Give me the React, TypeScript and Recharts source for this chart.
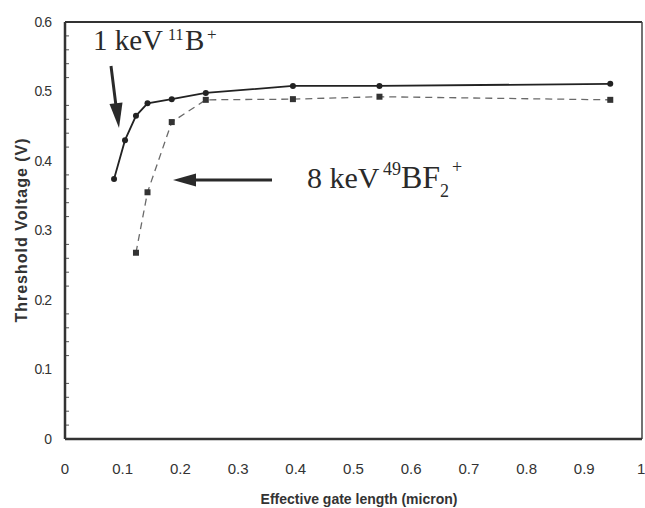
import React from 'react';
import { ComposedChart, Line, XAxis, YAxis, ReferenceLine, Customized } from 'recharts';

const boronLengths = [0.085, 0.104, 0.123, 0.143, 0.185, 0.244, 0.395, 0.545, 0.945];
const boronVt = [0.374, 0.43, 0.465, 0.483, 0.489, 0.498, 0.508, 0.508, 0.511];

const bf2Lengths = [0.123, 0.143, 0.185, 0.244, 0.395, 0.545, 0.945];
const bf2Vt = [0.268, 0.355, 0.456, 0.488, 0.489, 0.4925, 0.488];

const xTicks = [0, 0.1, 0.2, 0.3, 0.4, 0.5, 0.6, 0.7, 0.8, 0.9, 1];
const yTicks = [0, 0.1, 0.2, 0.3, 0.4, 0.5, 0.6];
const yMinorTicks = [
  0.02, 0.04, 0.06, 0.08, 0.12, 0.14, 0.16, 0.18, 0.22, 0.24, 0.26, 0.28,
  0.32, 0.34, 0.36, 0.38, 0.42, 0.44, 0.46, 0.48, 0.52, 0.54, 0.56, 0.58,
];

const boronData = boronLengths.map((x, i) => ({ x, y: boronVt[i] }));
const bf2Data = bf2Lengths.map((x, i) => ({ x, y: bf2Vt[i] }));

const SquareDot = (props: any) => {
  const { cx, cy } = props;
  if (cx == null || cy == null) return null;
  return <rect x={cx - 3} y={cy - 3} width={6} height={6} fill="#333" />;
};

const RoundDot = (props: any) => {
  const { cx, cy } = props;
  if (cx == null || cy == null) return null;
  return <circle cx={cx} cy={cy} r={3} fill="#222" />;
};

const serif = "'Liberation Serif', 'Times New Roman', serif";

const Annotations = () => (
  <g>
    <text x={93} y={50} fontFamily={serif} fontSize={29} fill="#2a2a2a">
      <tspan x={93} y={50}>1 keV</tspan>
      <tspan x={168} y={40} fontSize={16}>11</tspan>
      <tspan x={185} y={50} fontSize={29}>B</tspan>
      <tspan x={207} y={40} fontSize={17}>+</tspan>
    </text>
    <text x={307} y={188} fontFamily={serif} fontSize={30} fill="#2a2a2a">
      <tspan x={307} y={188}>8 keV</tspan>
      <tspan x={383} y={175} fontSize={18}>49</tspan>
      <tspan x={401} y={188} fontSize={32}>BF</tspan>
      <tspan x={440} y={197} fontSize={18}>2</tspan>
      <tspan x={452} y={173} fontSize={18}>+</tspan>
    </text>
    <line x1={111} y1={66} x2={116} y2={106} stroke="#2a2a2a" strokeWidth={3} />
    <polygon points="119,128 109.5,104 122.5,102.4" fill="#2a2a2a" />
    <line x1={272} y1={180} x2={192} y2={180} stroke="#2a2a2a" strokeWidth={3} />
    <polygon points="173,180 196,173.5 196,186.5" fill="#2a2a2a" />
    <text
      x={21}
      y={230}
      transform="rotate(-90 21 230)"
      textAnchor="middle"
      dominantBaseline="central"
      fontFamily="Arial, 'Liberation Sans', sans-serif"
      fontWeight="bold"
      fontSize={16}
      letterSpacing={1}
      fill="#333"
    >
      Threshold Voltage (V)
    </text>
    <text
      x={359}
      y={504}
      textAnchor="middle"
      fontFamily="Arial, 'Liberation Sans', sans-serif"
      fontWeight="bold"
      fontSize={14}
      fill="#333"
    >
      Effective gate length (micron)
    </text>
  </g>
);

export default function App() {
  return (
    <div style={{ position: 'absolute', left: 0, top: 0, background: '#fff' }}>
      <ComposedChart
        width={645}
        height={508}
        margin={{ top: 22, right: 3, bottom: 39, left: 0 }}
      >
        <XAxis
          dataKey="x"
          type="number"
          domain={[0, 1]}
          ticks={xTicks}
          tickLine={false}
          tickSize={0}
          tickMargin={24}
          height={30}
          axisLine={{ stroke: '#333', strokeWidth: 2.5 }}
          tick={{ fontSize: 15, fill: '#333', fontFamily: 'Arial, sans-serif' }}
          allowDataOverflow
        />
        <YAxis
          dataKey="y"
          type="number"
          domain={[0, 0.6]}
          ticks={yTicks}
          tickLine={false}
          tickSize={0}
          tickMargin={14}
          width={65}
          axisLine={{ stroke: '#333', strokeWidth: 2.5 }}
          tick={{ fontSize: 14, fill: '#333', fontFamily: 'Arial, sans-serif', letterSpacing: -1 }}
          allowDataOverflow
        />
        <ReferenceLine y={0.6} stroke="#333" strokeWidth={2} />
        <ReferenceLine x={1} stroke="#444" strokeWidth={1.5} />
        {yMinorTicks.map((v) => (
          <ReferenceLine
            key={v}
            segment={[{ x: 0, y: v }, { x: 0.007, y: v }]}
            stroke="#555"
            strokeWidth={1}
          />
        ))}
        <Line
          data={bf2Data}
          dataKey="y"
          type="linear"
          stroke="#6a6a6a"
          strokeWidth={1.3}
          strokeDasharray="7 5"
          dot={<SquareDot />}
          activeDot={false}
          isAnimationActive={false}
        />
        <Line
          data={boronData}
          dataKey="y"
          type="linear"
          stroke="#222"
          strokeWidth={1.8}
          dot={<RoundDot />}
          activeDot={false}
          isAnimationActive={false}
        />
        <Customized component={Annotations} />
      </ComposedChart>
    </div>
  );
}
